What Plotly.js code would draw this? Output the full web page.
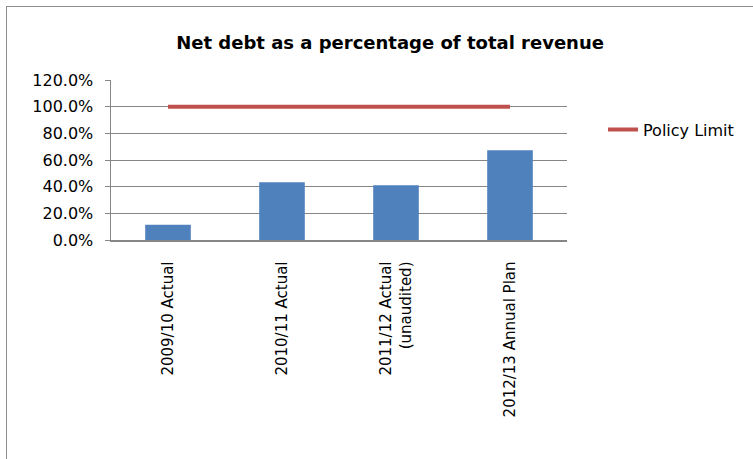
<!DOCTYPE html>
<html>
<head>
<meta charset="utf-8">
<script src="https://cdn.plot.ly/plotly-3.0.1.min.js"></script>
<style>
html,body{margin:0;padding:0;background:#fff;}
#wrap{position:relative;width:753px;height:459px;overflow:hidden;}
#chart{width:753px;height:459px;}
#frame{position:absolute;left:6px;top:6px;width:760px;height:470px;border-left:1.5px solid #8c8c8c;border-top:1.5px solid #8c8c8c;pointer-events:none;}
</style>
</head>
<body>
<div id="wrap">
<div id="chart"></div>
<div id="frame"></div>
</div>
<script>
const categories = ["2009/10 Actual", "2010/11 Actual", "2011/12 Actual<br>(unaudited)", "2012/13 Annual Plan"];
const netDebtPct = [0.115, 0.433, 0.410, 0.673];
const policyLimit = [1.0, 1.0, 1.0, 1.0];
const yTickVals = [0, 0.2, 0.4, 0.6, 0.8, 1.0, 1.2];

const font = "'DejaVu Sans', sans-serif";

const traces = [
  {
    type: "bar",
    x: categories,
    y: netDebtPct,
    marker: {color: "#4F81BD"},
    width: 0.4,
    showlegend: false,
    hoverinfo: "y"
  },
  {
    type: "scatter",
    mode: "lines",
    x: categories,
    y: policyLimit,
    name: "Policy Limit",
    line: {color: "#C0504D", width: 4}
  }
];

const layout = {
  width: 753,
  height: 459,
  margin: {l: 111, r: 186, t: 80, b: 219},
  paper_bgcolor: "#ffffff",
  plot_bgcolor: "#ffffff",
  font: {family: font, size: 15, color: "#000"},
  title: {
    text: "<b>Net debt as a percentage of total revenue</b>",
    font: {family: font, size: 18, color: "#000"},
    x: 0.518,
    xref: "container",
    xanchor: "center",
    y: 0.908,
    yanchor: "middle"
  },
  xaxis: {
    type: "category",
    tickangle: -90,
    showgrid: false,
    showline: true,
    linecolor: "#868686",
    linewidth: 1.5,
    ticks: "",
    ticklabelstandoff: 14,
    tickfont: {family: font, size: 15, color: "#000"},
    fixedrange: true
  },
  yaxis: {
    range: [0, 1.2],
    tickvals: yTickVals,
    tickformat: ".1%",
    showgrid: true,
    gridcolor: "#868686",
    gridwidth: 1,
    showline: true,
    linecolor: "#868686",
    linewidth: 1.5,
    ticks: "outside",
    ticklen: 5,
    tickcolor: "#868686",
    zeroline: false,
    ticklabelstandoff: 8,
    tickfont: {family: font, size: 16, color: "#000"},
    fixedrange: true
  },
  legend: {
    x: 1.079,
    xanchor: "left",
    y: 0.69,
    yanchor: "middle",
    font: {family: font, size: 16, color: "#000"},
    bgcolor: "rgba(0,0,0,0)"
  },
  showlegend: true
};

Plotly.newPlot("chart", traces, layout, {displayModeBar: false, staticPlot: true});
</script>
</body>
</html>
